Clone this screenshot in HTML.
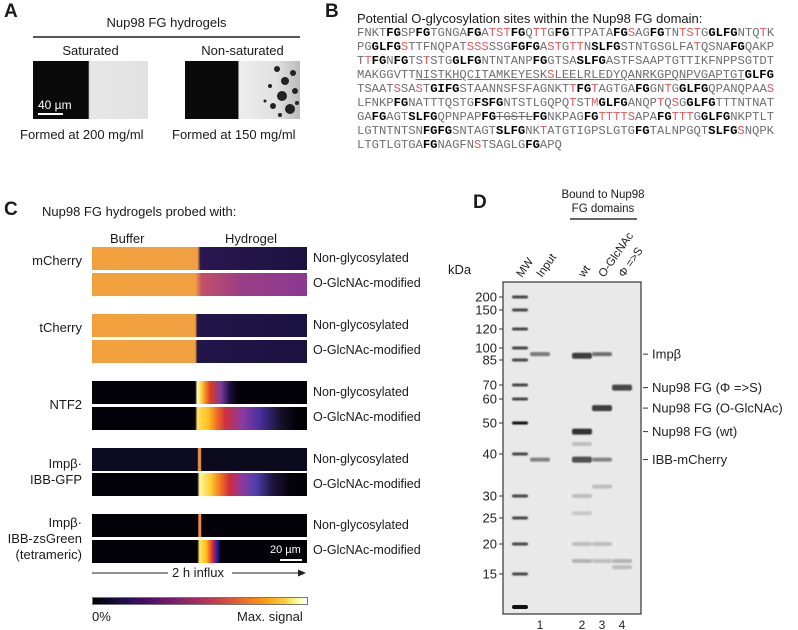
<!DOCTYPE html>
<html><head><meta charset="utf-8">
<style>
body{margin:0;background:#fff;}
#root{position:relative;width:798px;height:630px;overflow:hidden;font-family:"Liberation Sans",sans-serif;color:#1a1a1a;}
.abs{position:absolute;white-space:nowrap;}
.pl{font-weight:bold;font-size:19px;}
.seq{position:absolute;left:357px;font-family:"Liberation Mono",monospace;font-size:12.2px;color:#6e6e6e;white-space:pre;line-height:14px;}
.seq b{color:#000;}
.r{color:#e05a5a;}
.strip{position:absolute;left:92px;width:215px;height:23px;}
.rl{position:absolute;left:313px;font-size:12.5px;}
.ll{position:absolute;right:716px;font-size:13px;text-align:right;line-height:16px;}
</style></head><body>
<div id="root">
<!-- Panel A -->
<div class="abs pl" style="left:4px;top:1px">A</div>
<div class="abs" style="left:33px;width:267px;top:15px;text-align:center;font-size:13px">Nup98 FG hydrogels</div>
<div class="abs" style="left:33px;width:267px;top:36px;height:1.5px;background:#555"></div>
<div class="abs" style="left:33px;width:115px;top:43px;text-align:center;font-size:13px">Saturated</div>
<div class="abs" style="left:180px;width:125px;top:43px;text-align:center;font-size:13px">Non-saturated</div>
<div class="abs" style="left:33px;top:61px;width:115px;height:58px;background:linear-gradient(90deg,#0a0a0a 0,#0a0a0a 48%,#e6e6e6 49%,#e2e2e2 100%)">
 <div class="abs" style="left:5px;top:37px;color:#fff;font-size:12px">40 µm</div>
 <div class="abs" style="left:5px;top:52px;width:25px;height:1.5px;background:#fff"></div>
</div>
<div class="abs" style="left:185px;top:61px;width:115px;height:58px;background:linear-gradient(90deg,#0a0a0a 0,#0a0a0a 46%,#eee 47%,#e0e0e0 80%,#bbb 100%)">
 <svg width="115" height="58" style="position:absolute;left:0;top:0">
 <g fill="#222"><circle cx="92" cy="8" r="3"/><circle cx="100" cy="20" r="4"/><circle cx="108" cy="12" r="3"/><circle cx="97" cy="35" r="5"/><circle cx="110" cy="30" r="3"/><circle cx="88" cy="45" r="3"/><circle cx="105" cy="48" r="5"/><circle cx="112" cy="42" r="2"/><circle cx="95" cy="54" r="2"/><circle cx="85" cy="25" r="2"/><circle cx="80" cy="40" r="1.5"/></g></svg>
</div>
<div class="abs" style="left:20px;top:127px;font-size:13px">Formed at 200 mg/ml</div>
<div class="abs" style="left:172px;top:127px;font-size:13px">Formed at 150 mg/ml</div>

<!-- Panel B -->
<div class="abs pl" style="left:325px;top:1px">B</div>
<div class="abs" style="left:357px;top:11px;font-size:13px">Potential O-glycosylation sites within the Nup98 FG domain:</div>
<div class="seq" style="top:26px">FNKT<b>FG</b>SP<b>FG</b>TGNGA<b>FG</b>A<span class="r">TST</span><b>FG</b>Q<span class="r">TT</span>G<b>FG</b>TTPATA<b>FG</b><span class="r">S</span>AG<b>FG</b>TN<span class="r">TST</span>G<b>GLFG</b>NTQ<span class="r">T</span>K
PG<b>GLFG</b><span class="r">S</span>TTFNQPAT<span class="r">SSS</span>SSG<b>FGFG</b>A<span class="r">ST</span>G<span class="r">TT</span>N<b class="r">S</b><b>LFG</b>STNTGSGLFA<span class="r">T</span>QSNA<b>FG</b>QAKP
T<span class="r">T</span><b>FG</b>N<b>FG</b>TS<span class="r">T</span>STG<b>GLFG</b>NTNTANP<b>FG</b>GTSA<b>SLFG</b>ASTFSAAPTGTTIKFNPPSGTDT
MAKGGVTT<u>NISTKHQCITAMKEYESK<span class="r">S</span>LEELRLEDYQANRKGPQNPVGAPTGT</u><b>GLFG</b>
TSAAT<span class="r">S</span>SA<span class="r">S</span>T<b>GIFG</b>STAANNSFSFAGNKT<span class="r">T</span><b>FG</b><span class="r">T</span>AGTGA<b>FG</b>GN<span class="r">T</span>G<b>GLFG</b>QPANQPAA<span class="r">S</span>
LFNKP<b>FG</b>NATTTQSTG<b>FSFG</b>NTSTLGQPQ<span class="r">T</span>ST<span class="r">M</span><b>GLFG</b>ANQP<span class="r">T</span>Q<span class="r">S</span>G<b>GLFG</b>TTTNTNAT
GA<b>FG</b>AGT<b>SLFG</b>QPNPAP<b>FG</b><s>TGSTL</s><b>FG</b>NKPAG<b>FG</b><span class="r">TTTTS</span>APA<b>FG</b><span class="r">TTT</span>G<b>GLFG</b>NKPTLT
LGTNTNTSN<b>FGFG</b>SNTAGT<b>SLFG</b>NK<span class="r">T</span>ATGTIGPSLGTG<b>FG</b>TALNPGQT<b>SLFG</b><span class="r">S</span>NQPK
LTGTLGTGA<b>FG</b>NAGFN<span class="r">S</span>TSAGLG<b>FG</b>APQ</div>

<!-- Panel C -->
<div class="abs pl" style="left:4px;top:199px">C</div>
<div class="abs" style="left:42px;top:204px;font-size:13px">Nup98 FG hydrogels probed with:</div>
<div class="abs" style="left:110px;top:231px;font-size:13px">Buffer</div>
<div class="abs" style="left:225px;top:231px;font-size:13px">Hydrogel</div>

<div class="ll" style="top:253px">mCherry</div>
<div class="strip" style="top:247px;background:linear-gradient(90deg,#f2a13e 0,#f0a040 49%,#2a1650 50.5%,#1b1240 100%)"></div>
<div class="strip" style="top:273px;background:linear-gradient(90deg,#f2a13e 0,#f0a040 48%,#c0506a 51%,#9a3c86 70%,#8a3a92 100%)"></div>
<div class="rl" style="top:251px">Non-glycosylated</div>
<div class="rl" style="top:276px">O-GlcNAc-modified</div>

<div class="ll" style="top:320px">tCherry</div>
<div class="strip" style="top:314px;background:linear-gradient(90deg,#f2a13e 0,#f0a040 48%,#22154a 49%,#1a1240 100%)"></div>
<div class="strip" style="top:340px;background:linear-gradient(90deg,#f2a13e 0,#f0a040 48%,#22154a 49%,#1a1240 100%)"></div>
<div class="rl" style="top:318px">Non-glycosylated</div>
<div class="rl" style="top:343px">O-GlcNAc-modified</div>

<div class="ll" style="top:397px">NTF2</div>
<div class="strip" style="top:381px;background:linear-gradient(90deg,#030208 0,#030208 48%,#fffad0 49%,#ffd030 51%,#e03a20 55%,#7a3aa0 60%,#201040 64%,#030208 68%,#030208 100%)"></div>
<div class="strip" style="top:407px;background:linear-gradient(90deg,#030208 0,#030208 48%,#ffe060 49%,#ffc020 54%,#f07020 58%,#d03040 62%,#8a3aa0 70%,#4a30a0 78%,#15102a 88%,#030208 95%)"></div>
<div class="rl" style="top:385px">Non-glycosylated</div>
<div class="rl" style="top:410px">O-GlcNAc-modified</div>

<div class="ll" style="top:456px">Impβ·<br>IBB-GFP</div>
<div class="strip" style="top:448px;background:linear-gradient(90deg,#0e0c22 0,#0e0c22 49%,#f09040 49.5%,#f09040 50.5%,#0c0a1e 51%,#0c0a1e 100%)"></div>
<div class="strip" style="top:473px;background:linear-gradient(90deg,#030208 0,#030208 49%,#fff6a0 50%,#ffd030 55%,#f07020 60%,#d02a40 64%,#8a3aa0 70%,#5040b0 76%,#201440 84%,#030208 92%)"></div>
<div class="rl" style="top:452px">Non-glycosylated</div>
<div class="rl" style="top:477px">O-GlcNAc-modified</div>

<div class="ll" style="top:515px">Impβ·<br>IBB-zsGreen<br>(tetrameric)</div>
<div class="strip" style="top:514px;background:linear-gradient(90deg,#030208 0,#030208 49.3%,#f08a40 49.6%,#f08a40 50.6%,#030208 51%,#030208 100%)"></div>
<div class="strip" style="top:540px;background:linear-gradient(90deg,#030208 0,#030208 49%,#ffe860 50%,#ffc020 53%,#f06020 55%,#c02050 56.5%,#3020a0 58%,#030208 60%,#030208 100%)">
 <div class="abs" style="left:178px;top:4px;color:#fff;font-size:11px">20 µm</div>
 <div class="abs" style="left:188px;top:19px;width:22px;height:1.5px;background:#fff"></div>
</div>
<div class="rl" style="top:518px">Non-glycosylated</div>
<div class="rl" style="top:543px">O-GlcNAc-modified</div>

<svg class="abs" style="left:90px;top:566px" width="220" height="14">
 <line x1="2" y1="7" x2="78" y2="7" stroke="#222" stroke-width="1"/>
 <line x1="142" y1="7" x2="212" y2="7" stroke="#222" stroke-width="1"/>
 <polygon points="216,7 208,3.5 208,10.5" fill="#222"/>
</svg>
<div class="abs" style="left:172px;top:565px;font-size:13px">2 h influx</div>
<div class="abs" style="left:92px;top:597px;width:214px;height:6px;border:1px solid #777;background:linear-gradient(90deg,#000004,#1b0c41 12%,#4a0c6b 25%,#781c6d 37%,#a52c60 49%,#cf4446 60%,#ed6925 70%,#fb9b06 80%,#f7d13d 90%,#fcffa4 96%,#fff)"></div>
<div class="abs" style="left:92px;top:609px;font-size:13px">0%</div>
<div class="abs" style="left:237px;top:609px;font-size:13px">Max. signal</div>

<!-- Panel D -->
<div class="abs pl" style="left:473px;top:192px">D</div>
<div class="abs" style="left:553px;width:100px;top:189px;text-align:center;font-size:11.5px">Bound to Nup98</div>
<div class="abs" style="left:553px;width:100px;top:203px;text-align:center;font-size:11.5px">FG domains</div>
<div class="abs" style="left:570px;width:67px;top:218px;height:1.5px;background:#666"></div>
<div class="abs" style="left:448px;top:262px;font-size:13px">kDa</div>
<svg class="abs" style="left:0;top:0" width="798" height="630" id="gel">
 <defs><filter id="blur" x="-20%" y="-100%" width="140%" height="300%"><feGaussianBlur stdDeviation="0.8"/></filter></defs>
</svg>
</div>
<script>
const markerKDa=[200,150,120,100,85,70,60,50,40,30,25,20,15];
const calibKDa=[200,150,120,100,85,70,60,50,40,30,25,20,15,10];
const calibY=[297,310,329,348,360,385,399,423,454,496,518,544,574,607];
const laneNames=["MW","Input","wt","O-GlcNAc","Φ =>S"];
const laneNumbers=["","1","2","3","4"];
const bandLane=[1,1,2,2,2,2,2,2,2,3,3,3,3,3,4,4,4,2,3];
const bandKDa=[92,38.5,90,47,38.5,30,20,17,43,92,56,38.5,20,17,68,17,16,26,32];
const bandInt=[0.55,0.5,0.85,0.9,0.75,0.2,0.2,0.25,0.2,0.6,0.85,0.5,0.2,0.2,0.8,0.25,0.2,0.15,0.2];
const labelText=["Impβ","Nup98 FG (Φ =>S)","Nup98 FG (O-GlcNAc)","Nup98 FG (wt)","IBB-mCherry"];
const labelKDa=[92,68,56,47,38.5];
const gel={x0:503,x1:641,y0:282,y1:614};
const laneX=i=>520+[0,20,62,82,102][i];
function yScale(k){
 const l=Math.log(k);
 for(let i=0;i<calibKDa.length-1;i++){
  const a=Math.log(calibKDa[i]),b=Math.log(calibKDa[i+1]);
  if(l<=a&&l>=b){return calibY[i]+(calibY[i+1]-calibY[i])*(a-l)/(a-b);}
 }
 return l>Math.log(calibKDa[0])?calibY[0]:calibY[calibY.length-1];
}
const NS="http://www.w3.org/2000/svg";
const svg=document.getElementById('gel');
function mk(t,a){const e=document.createElementNS(NS,t);for(const k in a)e.setAttribute(k,a[k]);svg.appendChild(e);return e;}
let r=mk('rect',{x:gel.x0,y:gel.y0,width:gel.x1-gel.x0,height:gel.y1-gel.y0,fill:'#e9e9e9',stroke:'#333','stroke-width':1.2});


markerKDa.forEach(k=>{
 const y=yScale(k);
 let b=mk('rect',{x:laneX(0)-8,y:y-1.5,width:16,height:3,fill:k===50?'#111':'#444',rx:1.5,filter:'url(#blur)'});
 
 
 let t=mk('line',{x1:gel.x0-4,x2:gel.x0,y1:y,y2:y,stroke:'#333'});
 
 
 let tx=mk('text',{x:gel.x0-6,y:y+4.5,'text-anchor':'end','font-size':13,'font-family':'Liberation Sans, sans-serif',fill:'#222'});
 tx.textContent=k;
 
 
});
let bm=mk('rect',{x:laneX(0)-8,y:yScale(10)-2,width:16,height:4,fill:'#111',rx:2});


bandLane.forEach((ln,i)=>{
 const y=yScale(bandKDa[i]);const v=bandInt[i];
 const g=Math.round(230-200*v);
 const h=v>0.7?6:4;
 let b=mk('rect',{x:laneX(ln)-10,y:y-h/2,width:20,height:h,fill:`rgb(${g},${g},${g})`,rx:2,filter:'url(#blur)'});
 
 
});
laneNames.forEach((n,i)=>{
 const x=laneX(i)+2,y=278;
 let t=mk('text',{x:x,y:y,transform:`rotate(-55 ${x} ${y})`,'font-size':11.5,'font-family':'Liberation Sans, DejaVu Sans, sans-serif',fill:'#222'});
 t.textContent=n;
 
 
 if(laneNumbers[i]){
  let u=mk('text',{x:laneX(i),y:629,'text-anchor':'middle','font-size':12,'font-family':'Liberation Sans, sans-serif',fill:'#222'});
  u.textContent=laneNumbers[i];
  
  
 }
});
labelText.forEach((s,i)=>{
 const y=yScale(labelKDa[i]);
 let l=mk('line',{x1:gel.x1+2,x2:gel.x1+7,y1:y,y2:y,stroke:'#333'});
 
 
 let t=mk('text',{x:gel.x1+11,y:y+4.5,'font-size':13,'font-family':'Liberation Sans, DejaVu Sans, sans-serif',fill:'#222'});
 t.textContent=s;
 
 
});
</script>
</body></html>
